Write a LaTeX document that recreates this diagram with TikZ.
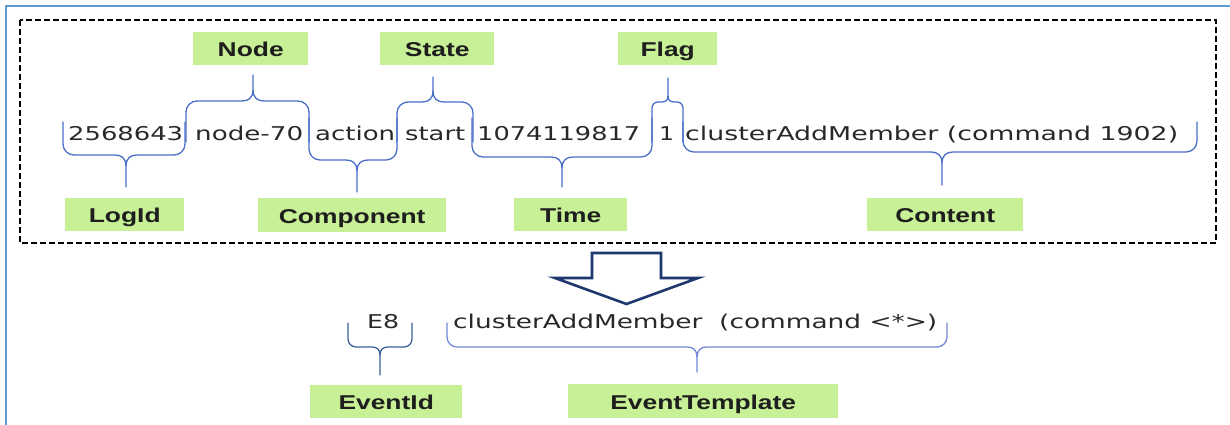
\documentclass[tikz,border=0pt]{standalone}
\usepackage{fontspec}
\usepackage{graphicx}
\setmainfont{DejaVu Sans}
\newfontfamily\lblfont{Liberation Sans}
\definecolor{framblue}{RGB}{91,155,213}
\definecolor{lblgreen}{RGB}{200,240,150}
\definecolor{lbltext}{RGB}{30,30,30}
\definecolor{toktext}{RGB}{40,40,40}
\definecolor{braceblue}{RGB}{72,110,200}
\definecolor{bracedark}{RGB}{62,96,150}
\definecolor{bracelight}{RGB}{115,135,215}
\definecolor{arrownavy}{RGB}{30,55,110}

% text stretched horizontally to a given width (in pt)
\newcommand\stretchto[2]{\resizebox{#1pt}{\height}{#2}}
\newcommand\widelbl[1]{\scalebox{1.32}[1]{#1}}

% curly brace: x1, x2, tip x, end y, line y, tip y, direction (+1 down / -1 up), corner size
\newcommand\curlybrace[8]{%
  \draw[bracestyle] ({#1},{#4}) -- ({#1},{#5-(#7)*#8})
    .. controls ({#1},{#5-(#7)*0.45*#8}) and ({#1+0.45*#8},{#5}) .. ({#1+#8},{#5})
    -- ({#3-#8},{#5})
    .. controls ({#3-0.4*#8},{#5}) and ({#3},{#5+(#7)*0.3*#8}) .. ({#3},{#5+(#7)*#8})
    -- ({#3},{#6});
  \draw[bracestyle] ({#3},{#5+(#7)*#8})
    .. controls ({#3},{#5+(#7)*0.3*#8}) and ({#3+0.4*#8},{#5}) .. ({#3+#8},{#5})
    -- ({#2-#8},{#5})
    .. controls ({#2-0.45*#8},{#5}) and ({#2},{#5-(#7)*0.45*#8}) .. ({#2},{#5-(#7)*#8})
    -- ({#2},{#4});
}

\tikzset{
  lbl/.style={fill=lblgreen, inner sep=0pt, anchor=north west,
    text height=16pt, text depth=0pt, text=lbltext,
    font=\lblfont\bfseries\fontsize{20}{21}\selectfont},
  tok/.style={anchor=base west, inner sep=0pt, text=toktext,
    font=\fontsize{19}{21}\selectfont},
  bracestyle/.style={line width=1.3pt, line join=round, line cap=round},
  blockarrow/.style={draw=arrownavy, line width=2.6pt, line join=miter, fill=white},
}

\begin{document}
\begin{tikzpicture}[x=1pt, y=-1pt]
\useasboundingbox (0,0) rectangle (1230,424);

% outer frame
\draw[framblue, line width=2pt] (6,430) -- (6,6) -- (1236,6);
% log record box
\draw[black, line width=1.3pt, dash pattern=on 6pt off 3pt] (20,20) rectangle (1216,243);

% raw log message
\node[tok] (tLog)     at (68,140)  {\stretchto{115}{2568643}};
\node[tok] (tNode)    at (195,140) {\stretchto{108}{node-70}};
\node[tok] (tComp)    at (315,140) {\stretchto{80}{action}};
\node[tok] (tState)   at (405,140) {\stretchto{60}{start}};
\node[tok] (tTime)    at (477,140) {\stretchto{163}{1074119817}};
\node[tok] (tFlag)    at (659,140) {\stretchto{15}{1}};
\node[tok] (tContent) at (685,140) {\stretchto{493}{clusterAddMember (command 1902)}};

% field labels
\node[lbl, minimum width=115pt, minimum height=33pt] (lNode)  at (193,32)  {\widelbl{Node}};
\node[lbl, minimum width=114pt, minimum height=33pt] (lState) at (380,32)  {\widelbl{State}};
\node[lbl, minimum width=99pt,  minimum height=33pt] (lFlag)  at (618,32)  {\widelbl{Flag}};
\node[lbl, minimum width=119pt, minimum height=33pt] (lLog)   at (65,198)  {\widelbl{LogId}};
\node[lbl, minimum width=188pt, minimum height=34pt] (lComp)  at (258,198) {\widelbl{Component}};
\node[lbl, minimum width=113pt, minimum height=33pt] (lTime)  at (514,198) {\widelbl{Time}};
\node[lbl, minimum width=156pt, minimum height=33pt] (lCont)  at (867,198) {\widelbl{Content}};

% braces of the raw message
\begin{scope}[color=braceblue]
  \curlybrace{63}{185}{126}{122}{155}{187}{1}{11}
  \curlybrace{186}{309}{253}{142}{101}{75}{-1}{11}
  \curlybrace{309}{397}{357}{118}{160}{192}{1}{11}
  \curlybrace{397}{473}{433}{142}{102}{77}{-1}{11}
  \curlybrace{472}{652}{562}{118}{157}{187}{1}{11}
  \curlybrace{652}{683}{668}{142}{102}{78}{-1}{6}
  \curlybrace{683}{1197}{942}{122}{152}{185}{1}{11}
\end{scope}

% parsing arrow
\draw[blockarrow] (592,253) -- (661,253) -- (661,278) -- (698,278) -- (626.5,304)
  -- (555,278) -- (592,278) -- cycle;

% structured event
\node[tok] (tEid) at (367,328) {\stretchto{32}{E8}};
\node[tok] (tTpl) at (453,328) {\stretchto{484}{clusterAddMember\ \ (command <*>)}};

\node[lbl, minimum width=152pt, minimum height=33pt] (lEid) at (310,385) {\widelbl{EventId}};
\node[lbl, minimum width=270pt, minimum height=34pt] (lTpl) at (568,384) {\widelbl{EventTemplate}};

\begin{scope}[color=bracedark]
  \curlybrace{348}{412}{380}{323}{347}{375}{1}{8}
\end{scope}
\begin{scope}[color=bracelight]
  \curlybrace{447}{947}{697}{323}{347}{372}{1}{10}
\end{scope}
\end{tikzpicture}
\end{document}
